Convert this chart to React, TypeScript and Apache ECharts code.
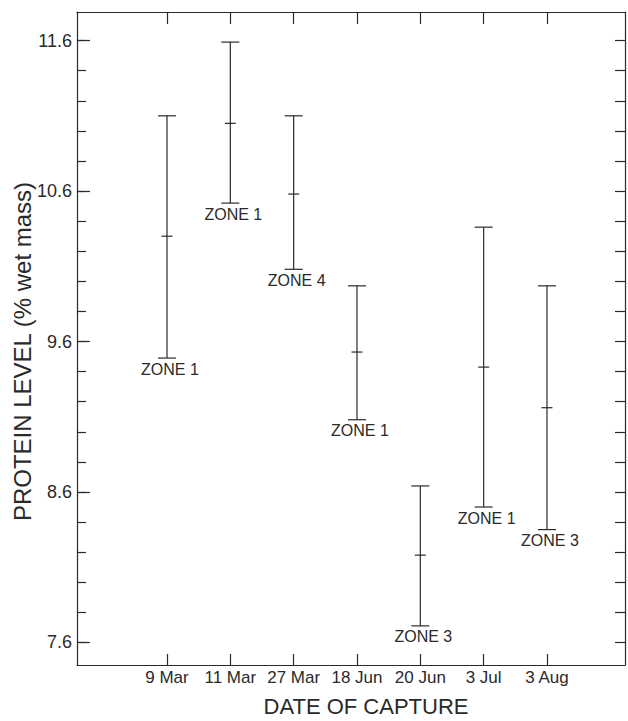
import React, { useEffect, useRef } from "react";
import * as echarts from "echarts";

const dates = ["9 Mar", "11 Mar", "27 Mar", "18 Jun", "20 Jun", "3 Jul", "3 Aug"];
const highs = [11.1, 11.59, 11.1, 9.97, 8.64, 10.36, 9.97];
const means = [10.3, 11.05, 10.58, 9.53, 8.18, 9.43, 9.16];
const lows = [9.49, 10.52, 10.08, 9.08, 7.71, 8.5, 8.35];
const zones = ["ZONE 1", "ZONE 1", "ZONE 4", "ZONE 1", "ZONE 3", "ZONE 1", "ZONE 3"];

const majorTicks = [7.6, 8.6, 9.6, 10.6, 11.6];
const minorTicks = [
  7.6, 7.8, 8.0, 8.2, 8.4, 8.6, 8.8, 9.0, 9.2, 9.4, 9.6, 9.8, 10.0, 10.2, 10.4,
  10.6, 10.8, 11.0, 11.2, 11.4, 11.6,
];
const xTicks = [0, 1, 2, 3, 4, 5, 6];

const FONT = '"Liberation Sans", Arial, Helvetica, sans-serif';
const INK = "#2a2a2a";

export default function App() {
  const ref = useRef<HTMLDivElement>(null);

  useEffect(() => {
    if (!ref.current) return;
    const chart = echarts.init(ref.current, null, { renderer: "svg" });
    const yMin = 7.45;
    const yMax = 11.79;
    const xMin = -1.421;
    const xMax = 7.232;
    const lineStyle = { color: INK, width: 1.2 };

    chart.setOption({
      animation: false,
      backgroundColor: "#ffffff",
      grid: {
        left: 77,
        right: 3,
        top: 12,
        bottom: 56,
        containLabel: false,
        outerBoundsMode: "none",
      },
      xAxis: [
        {
          type: "value",
          position: "bottom",
          min: xMin,
          max: xMax,
          splitLine: { show: false },
          axisLine: { show: true, onZero: false, lineStyle },
          axisTick: { show: true, inside: true, length: 11, customValues: xTicks, lineStyle },
          axisLabel: {
            show: true,
            customValues: xTicks,
            formatter: (v: number) => dates[Math.round(v)] ?? "",
            margin: 4,
            fontSize: 17,
            fontFamily: FONT,
            color: INK,
          },
          name: "DATE OF CAPTURE",
          nameLocation: "middle",
          nameGap: 30,
          nameMoveOverlap: false,
          nameTextStyle: { fontSize: 22, fontFamily: FONT, color: INK, padding: [0, 0, 0, 30] },
        },
        {
          type: "value",
          position: "top",
          min: xMin,
          max: xMax,
          splitLine: { show: false },
          axisLine: { show: true, onZero: false, lineStyle },
          axisTick: { show: true, inside: true, length: 12, customValues: xTicks, lineStyle },
          axisLabel: { show: false },
        },
      ],
      yAxis: [
        {
          type: "value",
          position: "left",
          min: yMin,
          max: yMax,
          splitLine: { show: false },
          axisLine: { show: true, onZero: false, lineStyle },
          axisTick: { show: true, inside: true, length: 13, customValues: majorTicks, lineStyle },
          axisLabel: {
            show: true,
            customValues: majorTicks,
            formatter: (v: number) => v.toFixed(1),
            margin: 5,
            fontSize: 18,
            fontFamily: FONT,
            color: INK,
          },
          name: "PROTEIN LEVEL (% wet mass)",
          nameLocation: "middle",
          nameGap: 43,
          nameMoveOverlap: false,
          nameRotate: 90,
          nameTextStyle: { fontSize: 24, fontFamily: FONT, color: INK, padding: [0, 26, 0, 0] },
        },
        {
          type: "value",
          position: "left",
          min: yMin,
          max: yMax,
          splitLine: { show: false },
          axisLine: { show: false, onZero: false },
          axisTick: { show: true, inside: true, length: 9, customValues: minorTicks, lineStyle },
          axisLabel: { show: false },
        },
        {
          type: "value",
          position: "right",
          min: yMin,
          max: yMax,
          splitLine: { show: false },
          axisLine: { show: true, onZero: false, lineStyle },
          axisTick: { show: true, inside: true, length: 10, customValues: minorTicks, lineStyle },
          axisLabel: { show: false },
        },
      ],
      series: [
        {
          type: "custom",
          xAxisIndex: 0,
          yAxisIndex: 0,
          encode: { x: 0, y: [1, 2, 3] },
          data: dates.map((_, i) => [i, lows[i], means[i], highs[i]]),
          renderItem: (params: any, api: any) => {
            const i = params.dataIndex;
            const x = api.value(0);
            const lo = api.coord([x, api.value(1)]);
            const mid = api.coord([x, api.value(2)]);
            const hi = api.coord([x, api.value(3)]);
            const cx = lo[0];
            const capHalf = 9;
            const meanHalf = 5.5;
            const style = { stroke: INK, lineWidth: 1.2 };
            return {
              type: "group",
              children: [
                { type: "line", shape: { x1: cx, y1: hi[1], x2: cx, y2: lo[1] }, style },
                { type: "line", shape: { x1: cx - capHalf, y1: hi[1], x2: cx + capHalf, y2: hi[1] }, style },
                { type: "line", shape: { x1: cx - capHalf, y1: lo[1], x2: cx + capHalf, y2: lo[1] }, style },
                { type: "line", shape: { x1: cx - meanHalf, y1: mid[1], x2: cx + meanHalf, y2: mid[1] }, style },
                {
                  type: "text",
                  style: {
                    text: zones[i],
                    x: cx + 3,
                    y: lo[1] + 3,
                    align: "center",
                    verticalAlign: "top",
                    fontSize: 16,
                    fontFamily: FONT,
                    fill: INK,
                  },
                },
              ],
            };
          },
        },
      ],
    });

    return () => chart.dispose();
  }, []);

  return (
    <div
      ref={ref}
      style={{ position: "fixed", left: 0, top: 0, width: 628, height: 721, background: "#fff" }}
    />
  );
}
